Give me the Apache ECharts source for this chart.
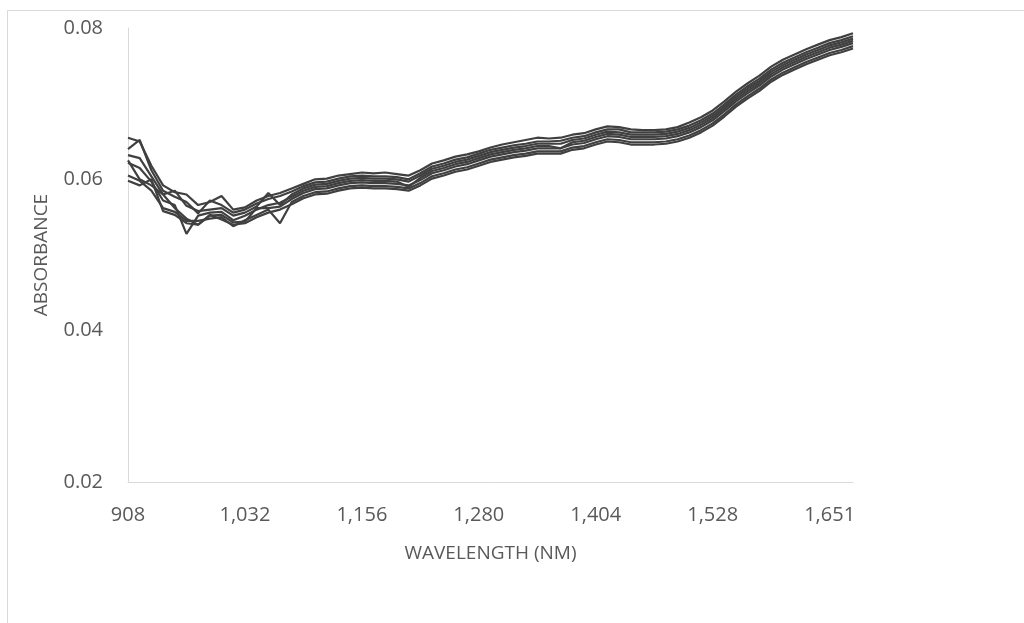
<!DOCTYPE html>
<html>
<head>
<meta charset="utf-8">
<script src="https://cdn.jsdelivr.net/npm/echarts@6/dist/echarts.min.js"></script>
<style>
html,body{margin:0;padding:0;background:#fff;}
#chart{width:1024px;height:623px;}
</style>
</head>
<body>
<div id="chart"></div>
<script>
const wavelengths = [908, 920, 933, 945, 958, 970, 982, 995, 1007, 1020, 1032, 1044, 1057, 1069, 1082, 1094, 1106, 1119, 1131, 1144, 1156, 1168, 1181, 1193, 1206, 1218, 1230, 1243, 1255, 1268, 1280, 1292, 1305, 1317, 1330, 1342, 1354, 1367, 1379, 1392, 1404, 1416, 1429, 1441, 1454, 1466, 1478, 1491, 1503, 1516, 1528, 1540, 1552, 1565, 1577, 1589, 1602, 1614, 1626, 1639, 1651, 1663, 1676];

const sample1 = [0.0655, 0.0650, 0.0618, 0.0592, 0.0583, 0.0580, 0.0566, 0.0570, 0.0578, 0.0560, 0.0563, 0.0572, 0.0578, 0.0582, 0.0588, 0.0594, 0.0600, 0.0601, 0.0605, 0.0607, 0.0609, 0.0608, 0.0609, 0.0607, 0.0605, 0.0612, 0.0621, 0.0625, 0.0630, 0.0633, 0.0637, 0.0642, 0.0646, 0.0649, 0.0652, 0.0655, 0.0654, 0.0655, 0.0659, 0.0661, 0.0666, 0.0670, 0.0669, 0.0666, 0.0665, 0.0665, 0.0666, 0.0669, 0.0675, 0.0682, 0.0691, 0.0703, 0.0716, 0.0727, 0.0737, 0.0749, 0.0758, 0.0765, 0.0772, 0.0778, 0.0784, 0.0788, 0.0793];
const sample2 = [0.0640, 0.0652, 0.0612, 0.0585, 0.0577, 0.0570, 0.0555, 0.0572, 0.0566, 0.0556, 0.0560, 0.0568, 0.0574, 0.0578, 0.0584, 0.0591, 0.0596, 0.0597, 0.0601, 0.0604, 0.0605, 0.0604, 0.0604, 0.0603, 0.0600, 0.0608, 0.0617, 0.0621, 0.0626, 0.0629, 0.0634, 0.0639, 0.0642, 0.0645, 0.0647, 0.0650, 0.0650, 0.0651, 0.0655, 0.0657, 0.0662, 0.0666, 0.0666, 0.0662, 0.0662, 0.0662, 0.0663, 0.0666, 0.0671, 0.0678, 0.0687, 0.0699, 0.0712, 0.0723, 0.0733, 0.0745, 0.0754, 0.0761, 0.0768, 0.0774, 0.0780, 0.0784, 0.0789];
const sample3 = [0.0632, 0.0628, 0.0604, 0.0580, 0.0585, 0.0565, 0.0558, 0.0560, 0.0562, 0.0552, 0.0556, 0.0564, 0.0582, 0.0566, 0.0580, 0.0588, 0.0593, 0.0594, 0.0598, 0.0601, 0.0602, 0.0601, 0.0601, 0.0600, 0.0597, 0.0605, 0.0614, 0.0618, 0.0623, 0.0626, 0.0631, 0.0636, 0.0639, 0.0642, 0.0644, 0.0647, 0.0647, 0.0647, 0.0652, 0.0654, 0.0659, 0.0663, 0.0662, 0.0659, 0.0659, 0.0659, 0.0660, 0.0663, 0.0668, 0.0675, 0.0684, 0.0696, 0.0709, 0.0720, 0.0730, 0.0742, 0.0751, 0.0758, 0.0765, 0.0771, 0.0777, 0.0781, 0.0786];
const sample4 = [0.0622, 0.0615, 0.0597, 0.0572, 0.0566, 0.0528, 0.0552, 0.0556, 0.0557, 0.0546, 0.0552, 0.0560, 0.0566, 0.0569, 0.0577, 0.0585, 0.0590, 0.0591, 0.0595, 0.0598, 0.0599, 0.0598, 0.0598, 0.0597, 0.0590, 0.0602, 0.0611, 0.0615, 0.0620, 0.0623, 0.0628, 0.0633, 0.0636, 0.0639, 0.0641, 0.0644, 0.0644, 0.0641, 0.0649, 0.0651, 0.0656, 0.0660, 0.0659, 0.0656, 0.0656, 0.0656, 0.0657, 0.0660, 0.0665, 0.0672, 0.0681, 0.0693, 0.0706, 0.0717, 0.0727, 0.0739, 0.0748, 0.0755, 0.0762, 0.0768, 0.0774, 0.0778, 0.0783];
const sample5 = [0.0625, 0.0600, 0.0592, 0.0580, 0.0562, 0.0548, 0.0540, 0.0552, 0.0553, 0.0543, 0.0544, 0.0562, 0.0562, 0.0564, 0.0574, 0.0582, 0.0587, 0.0588, 0.0592, 0.0595, 0.0596, 0.0595, 0.0595, 0.0594, 0.0592, 0.0599, 0.0608, 0.0612, 0.0617, 0.0620, 0.0625, 0.0630, 0.0633, 0.0636, 0.0638, 0.0641, 0.0641, 0.0641, 0.0646, 0.0648, 0.0653, 0.0657, 0.0656, 0.0653, 0.0653, 0.0653, 0.0654, 0.0657, 0.0662, 0.0669, 0.0678, 0.0690, 0.0703, 0.0714, 0.0724, 0.0736, 0.0745, 0.0752, 0.0759, 0.0765, 0.0771, 0.0775, 0.0780];
const sample6 = [0.0605, 0.0598, 0.0585, 0.0562, 0.0557, 0.0545, 0.0545, 0.0548, 0.0550, 0.0538, 0.0546, 0.0553, 0.0560, 0.0542, 0.0570, 0.0578, 0.0583, 0.0584, 0.0588, 0.0591, 0.0592, 0.0591, 0.0591, 0.0590, 0.0588, 0.0595, 0.0604, 0.0608, 0.0613, 0.0616, 0.0621, 0.0626, 0.0629, 0.0632, 0.0634, 0.0637, 0.0637, 0.0637, 0.0642, 0.0644, 0.0649, 0.0653, 0.0652, 0.0649, 0.0649, 0.0649, 0.0650, 0.0653, 0.0658, 0.0665, 0.0674, 0.0686, 0.0699, 0.0710, 0.0720, 0.0732, 0.0741, 0.0748, 0.0755, 0.0761, 0.0767, 0.0771, 0.0776];
const sample7 = [0.0598, 0.0592, 0.0600, 0.0558, 0.0553, 0.0542, 0.0540, 0.0553, 0.0547, 0.0540, 0.0542, 0.0550, 0.0556, 0.0560, 0.0567, 0.0575, 0.0580, 0.0581, 0.0585, 0.0588, 0.0589, 0.0588, 0.0588, 0.0587, 0.0585, 0.0592, 0.0601, 0.0605, 0.0610, 0.0613, 0.0618, 0.0623, 0.0626, 0.0629, 0.0631, 0.0634, 0.0634, 0.0634, 0.0639, 0.0641, 0.0646, 0.0650, 0.0649, 0.0646, 0.0646, 0.0646, 0.0647, 0.0650, 0.0655, 0.0662, 0.0671, 0.0683, 0.0696, 0.0707, 0.0717, 0.0729, 0.0738, 0.0745, 0.0752, 0.0758, 0.0764, 0.0768, 0.0773];

const samples = [sample1, sample2, sample3, sample4, sample5, sample6, sample7];

const xTitle = 'WAVELENGTH (NM)';
const yTitle = 'ABSORBANCE';

const font = '"Open Sans", "Liberation Sans", sans-serif';
const textColor = '#595959';
const axisColor = '#d9d9d9';

const chart = echarts.init(document.getElementById('chart'), null, {renderer: 'canvas'});
chart.setOption({
  animation: false,
  backgroundColor: '#ffffff',
  graphic: [{
    type: 'rect',
    shape: {x: 7.5, y: 10.5, width: 1100, height: 700},
    style: {fill: 'none', stroke: axisColor, lineWidth: 1},
    silent: true, z: -1
  }],
  grid: {left: 128, right: 171, top: 28, bottom: 141, containLabel: false},
  xAxis: {
    type: 'category',
    data: wavelengths,
    boundaryGap: false,
    axisLine: {show: true, lineStyle: {color: axisColor, width: 1}},
    axisTick: {show: false},
    splitLine: {show: false},
    axisLabel: {
      interval: 9,
      margin: 23,
      color: textColor,
      fontFamily: font,
      fontSize: 20,
      formatter: v => Number(v).toLocaleString('en-US')
    },
    name: xTitle,
    nameLocation: 'middle',
    nameGap: 62,
    nameTextStyle: {color: textColor, fontFamily: font, fontSize: 19}
  },
  yAxis: {
    type: 'value',
    min: 0.02,
    max: 0.08,
    interval: 0.02,
    axisLine: {show: true, lineStyle: {color: axisColor, width: 1}},
    axisTick: {show: false},
    splitLine: {show: false},
    axisLabel: {
      margin: 25,
      color: textColor,
      fontFamily: font,
      fontSize: 20,
      formatter: v => v.toFixed(2)
    },
    name: yTitle,
    nameLocation: 'middle',
    nameGap: 77,
    nameRotate: 90,
    nameTextStyle: {color: textColor, fontFamily: font, fontSize: 19}
  },
  series: samples.map((s, k) => ({
    type: 'line',
    name: 'Sample ' + (k + 1),
    data: s,
    showSymbol: false,
    symbol: 'none',
    lineStyle: {color: '#404040', width: 2.2},
    emphasis: {disabled: true}
  }))
});
</script>
</body>
</html>
